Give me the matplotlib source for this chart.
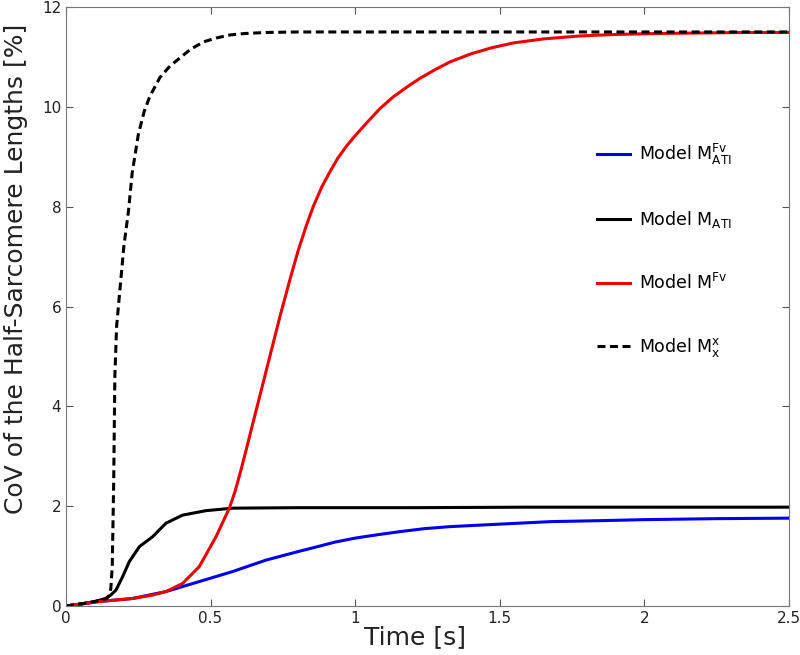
import matplotlib
matplotlib.use("Agg")
import matplotlib.pyplot as plt

# Data
t_blue = [0, 0.115, 0.23, 0.346, 0.461, 0.576, 0.692, 0.809, 0.864, 0.93, 1.0, 1.08, 1.155, 1.24, 1.328,
          1.5, 1.674, 1.85, 2.0, 2.25, 2.5]
y_blue = [0, 0.09, 0.15, 0.29, 0.49, 0.69, 0.92, 1.1, 1.18, 1.28, 1.36, 1.43, 1.49, 1.55, 1.59,
          1.64, 1.69, 1.71, 1.73, 1.75, 1.76]

t_black = [0, 0.05, 0.1, 0.138, 0.155, 0.173, 0.196, 0.219, 0.254, 0.3, 0.346, 0.403, 0.484, 0.576,
           0.8, 1.2, 1.6, 2.0, 2.5]
y_black = [0, 0.04, 0.09, 0.15, 0.22, 0.32, 0.59, 0.89, 1.19, 1.39, 1.66, 1.82, 1.91, 1.96,
           1.97, 1.97, 1.98, 1.98, 1.98]

t_red = [0, 0.115, 0.23, 0.3, 0.346, 0.403, 0.461, 0.519, 0.565, 0.585, 0.605, 0.625, 0.645, 0.67,
         0.705, 0.74, 0.775, 0.803, 0.83, 0.855, 0.885, 0.913, 0.94, 0.971, 1.0, 1.04, 1.085, 1.132,
         1.18, 1.224, 1.275, 1.328, 1.4, 1.47, 1.547, 1.65, 1.777, 1.9, 2.05, 2.2, 2.35, 2.5]
y_red = [0, 0.09, 0.15, 0.22, 0.29, 0.45, 0.79, 1.39, 1.96, 2.3, 2.72, 3.17, 3.63, 4.2,
         5.0, 5.8, 6.55, 7.12, 7.6, 8.0, 8.4, 8.7, 8.97, 9.22, 9.42, 9.68, 9.96, 10.2,
         10.4, 10.57, 10.74, 10.9, 11.06, 11.18, 11.28, 11.36, 11.42, 11.45, 11.47, 11.48, 11.49, 11.49]

t_mx = [0, 0.05, 0.1, 0.14, 0.15, 0.155, 0.16, 0.165, 0.169, 0.175, 0.187, 0.2, 0.216, 0.229, 0.25,
        0.27, 0.29, 0.325, 0.36, 0.394, 0.43, 0.475, 0.52, 0.567, 0.62, 0.694, 0.8, 1.0, 1.5, 2.0, 2.5]
y_mx = [0, 0.04, 0.09, 0.15, 0.22, 0.35, 0.8, 2.5, 4.6, 5.6, 6.37, 7.2, 7.91, 8.68, 9.44,
        9.9, 10.21, 10.59, 10.82, 10.98, 11.15, 11.3, 11.38, 11.44, 11.47, 11.49, 11.5, 11.5, 11.5,
        11.5, 11.5]

labels = [r'Model $\mathregular{M^{Fv}_{ATI}}$', r'Model $\mathregular{M_{ATI}}$',
          r'Model $\mathregular{M^{Fv}}$', r'Model $\mathregular{M^{x}_{x}}$']

fig = plt.figure(figsize=(8, 6.55), dpi=100)
ax = fig.add_axes([0.0825, 0.0748, 0.9035, 0.9145])

lw = 2.2
ax.plot(t_blue, y_blue, color='#0000ee', lw=lw, label=labels[0])
ax.plot(t_black, y_black, color='black', lw=lw, label=labels[1])
ax.plot(t_red, y_red, color='#ee0000', lw=lw, label=labels[2])
ax.plot(t_mx, y_mx, color='black', lw=lw, ls=(0, (2.6, 1.5)), label=labels[3])

ax.set_xlim(0, 2.5)
ax.set_ylim(0, 12)
ax.set_xticks([0, 0.5, 1, 1.5, 2, 2.5])
ax.set_xticklabels(['0', '0.5', '1', '1.5', '2', '2.5'])
ax.set_yticks([0, 2, 4, 6, 8, 10, 12])
ax.tick_params(direction='in', top=True, right=True, labelsize=11, color='#555555', length=5,
               labelcolor='#222222')
for s in ax.spines.values():
    s.set_color('#777777')
    s.set_linewidth(0.8)

ax.set_xlabel('Time [s]', fontsize=18, color='#222222')
ax.set_ylabel('CoV of the Half-Sarcomere Lengths [%]', fontsize=18, color='#222222')
ax.xaxis.set_label_coords(0.483, -0.032, transform=ax.transAxes)
ax.yaxis.set_label_coords(-0.052, 0.563, transform=ax.transAxes)
ax.xaxis.label.set_va('top')

leg = ax.legend(loc='upper left', bbox_to_anchor=(0.734, 0.775), frameon=False, fontsize=12.5,
                labelspacing=2.45, handlelength=1.9, handletextpad=0.52, borderpad=0,
                borderaxespad=0)

fig.savefig('out.png', dpi=100)
